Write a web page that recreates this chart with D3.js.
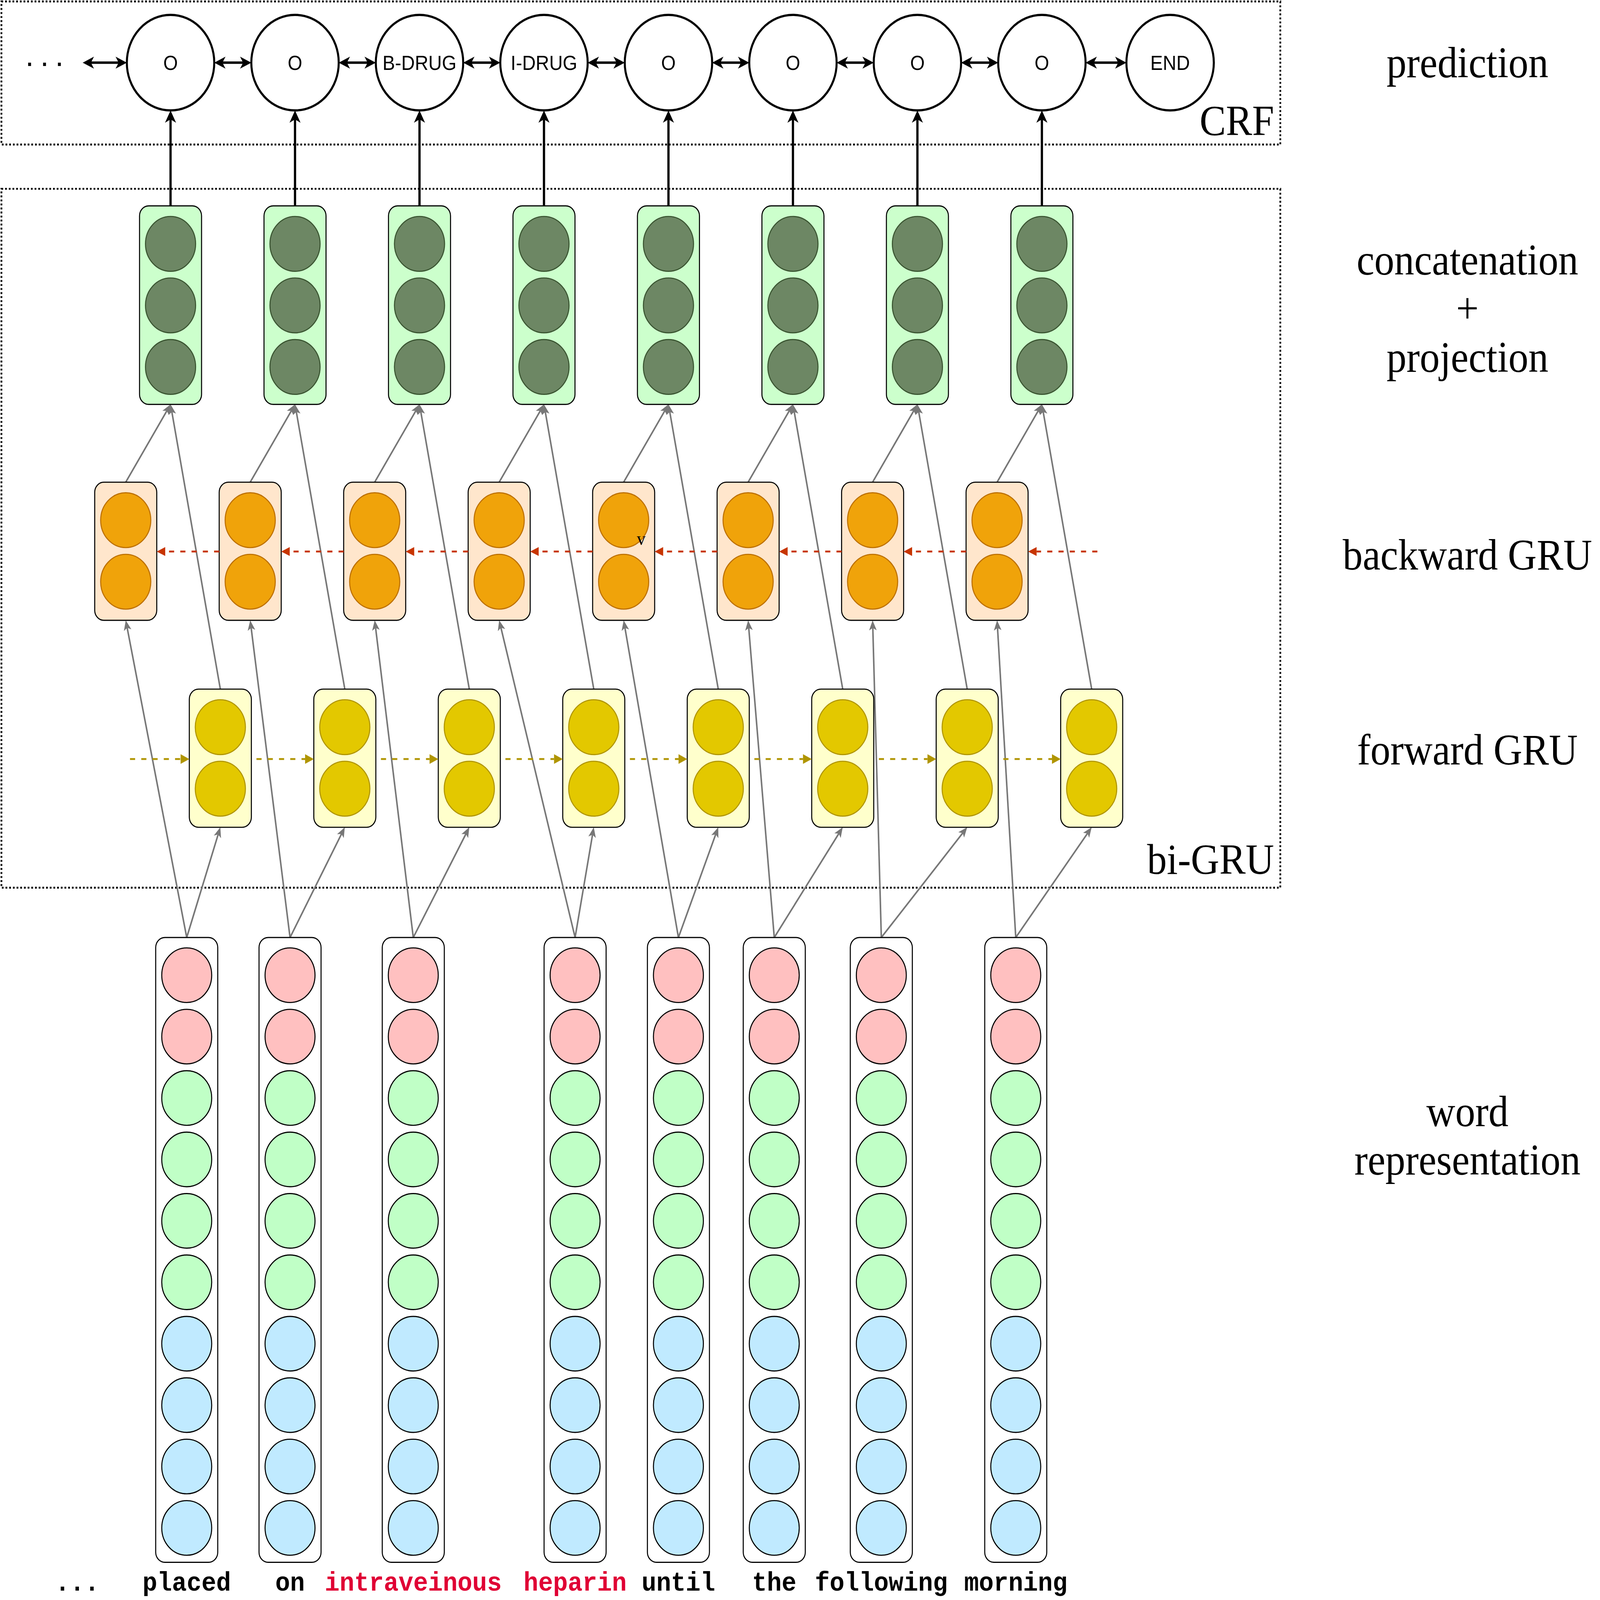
<!DOCTYPE html>
<html lang="en">
<head>
  <meta charset="utf-8">
  <title>bi-GRU + CRF tagger</title>
  <script src="https://d3js.org/d3.v7.min.js"></script>
  <style>
    html, body { margin: 0; padding: 0; background: #fff; overflow: hidden; }
    svg { display: block; width: 100vw; height: 100vh; }
  </style>
</head>
<body>
<script>
  // tags predicted by the CRF layer (last node closes the chain)
  var tags = ["O", "O", "B-DRUG", "I-DRUG", "O", "O", "O", "O", "END"];
  // input tokens, drug mentions are printed in red
  var words = ["...", "placed", "on", "intraveinous", "heparin", "until", "the", "following", "morning"];
  var drugWords = ["intraveinous", "heparin"];
  // where each token column sits, in column units of the GRU grid
  var wordSlot = [-0.75, 0.13, 0.96, 1.95, 3.25, 4.08, 4.85, 5.71, 6.79];
  // sub-vectors of one word representation (pink, green, blue)
  var reprParts = [2, 4, 4];
  var concatUnits = 3;
  var gruUnits = 2;
  var sideLabels = [
    ["prediction"],
    ["concatenation", "+", "projection"],
    ["backward GRU"],
    ["forward GRU"],
    ["word", "representation"]
  ];

  var W = 4920, H = 4502;
  var VW = 1563, VH = VW * H / W;   // drawing units, scaled up by the viewBox

  // the svg fills the whole window, like the reference fills its frame
  var svg = d3.select("body").append("svg")
    .attr("viewBox", "0 0 " + VW + " " + VH)
    .attr("preserveAspectRatio", "none");

  svg.append("rect").attr("width", VW).attr("height", VH).attr("fill", "#fff");

  // column scale: one step per time step
  var col = d3.scaleLinear().domain([0, 1]).range([166.6, 288.2]);
  var steps = d3.range(tags.length - 1);
  var fwdShift = 0.4, bwdShift = -0.36;

  var boxW = 60.6, unitR = 24.5;
  var unitY = d3.scaleLinear().domain([0, 1]).range([34, 89]);   // unit centre offset inside a box

  var layer = {
    cat: { top: 184, h: 177.5 },
    bwd: { top: 431, h: 123.5 },
    fwd: { top: 616, h: 123.5 },
    rep: { top: 838, h: 558.5 }
  };
  var predY = 56, predR = 42.7;

  var serif = "'Liberation Serif', 'DejaVu Serif', serif";
  var sans = "'Liberation Sans', Arial, sans-serif";
  var mono = "'Liberation Mono', 'Courier New', monospace";

  // ---------- arrow heads ----------
  var defs = svg.append("defs");
  var heads = {
    black: { color: "#000", len: 11, half: 5.4, notch: 3 },
    grey:  { color: "#777", len: 9, half: 3.7, notch: 2.2 },
    red:   { color: "#c73500", len: 8.3, half: 4, notch: 0 },
    gold:  { color: "#b09500", len: 8.5, half: 4.3, notch: 0 }
  };
  Object.keys(heads).forEach(function(k) {
    var h = heads[k];
    defs.append("marker")
      .attr("id", "ah-" + k)
      .attr("markerUnits", "userSpaceOnUse")
      .attr("viewBox", [-h.len, -h.half, h.len, 2 * h.half].join(" "))
      .attr("markerWidth", h.len)
      .attr("markerHeight", 2 * h.half)
      .attr("refX", -h.len + h.notch)
      .attr("refY", 0)
      .attr("orient", "auto-start-reverse")
      .style("overflow", "visible")
      .append("path")
      .attr("d", "M0,0L" + (-h.len) + "," + (-h.half) + "L" + (-h.len + h.notch) + ",0L" + (-h.len) + "," + h.half + "Z")
      .attr("fill", h.color);
  });

  function arrow(g, x1, y1, x2, y2, kind, width, both, dash) {
    var h = heads[kind];
    var dx = x2 - x1, dy = y2 - y1, d = Math.hypot(dx, dy);
    var k = (h.len - h.notch) / d;
    var line = g.append("line")
      .attr("x1", both ? x1 + dx * k : x1)
      .attr("y1", both ? y1 + dy * k : y1)
      .attr("x2", x2 - dx * k)
      .attr("y2", y2 - dy * k)
      .attr("stroke", h.color)
      .attr("stroke-width", width)
      .attr("marker-end", "url(#ah-" + kind + ")");
    if (both) line.attr("marker-start", "url(#ah-" + kind + ")");
    if (dash) line.attr("stroke-dasharray", dash);
    return line;
  }

  // ---------- dotted frames ----------
  var frames = [
    { x0: 1.4, y0: 1.3, x1: 1250.7, y1: 129.2, label: "CRF", base: 120.7 },
    { x0: 1.4, y0: 168.8, x1: 1250.7, y1: 793.5, label: "bi-GRU", base: 781 }
  ];
  svg.selectAll("rect.frame")
    .data(frames)
    .enter().append("rect")
    .attr("class", "frame")
    .attr("x", function(d) { return d.x0; })
    .attr("y", function(d) { return d.y0; })
    .attr("width", function(d) { return d.x1 - d.x0; })
    .attr("height", function(d) { return d.y1 - d.y0; })
    .attr("fill", "none")
    .attr("stroke", "#000")
    .attr("stroke-width", 1.7)
    .attr("stroke-dasharray", "1.7 1.9");
  svg.selectAll("text.frame-label")
    .data(frames)
    .enter().append("text")
    .attr("class", "frame-label")
    .attr("x", 1244.6)
    .attr("y", function(d) { return d.base; })
    .attr("text-anchor", "end")
    .attr("font-family", serif)
    .attr("font-size", 38.5)
    .text(function(d) { return d.label; });

  // ---------- grey connections ----------
  var gLinks = svg.append("g");
  var tokSlot = wordSlot.slice(1);
  steps.forEach(function(i) {
    var wx = col(tokSlot[i]), fx = col(i + fwdShift), bx = col(i + bwdShift), cx = col(i);
    var catBottom = layer.cat.top + layer.cat.h;
    arrow(gLinks, wx, layer.rep.top, fx, layer.fwd.top + layer.fwd.h, "grey", 1.5);
    arrow(gLinks, wx, layer.rep.top, bx, layer.bwd.top + layer.bwd.h, "grey", 1.5);
    arrow(gLinks, fx, layer.fwd.top, cx, catBottom, "grey", 1.5);
    arrow(gLinks, bx, layer.bwd.top, cx, catBottom, "grey", 1.5);
  });

  // ---------- CRF chain ----------
  var gCrf = svg.append("g");
  var predX = function(i) { return col(i === tags.length - 1 ? i + 0.03 : i); };
  steps.forEach(function(i) {
    arrow(gCrf, col(i), layer.cat.top, col(i), predY + predR, "black", 2.2);
  });
  arrow(gCrf, 80.8, predY, predX(0) - predR, predY, "black", 2.2, true);
  d3.range(tags.length - 1).forEach(function(i) {
    arrow(gCrf, predX(i) + predR, predY, predX(i + 1) - predR, predY, "black", 2.2, true);
  });
  gCrf.append("text")
    .attr("x", 48).attr("y", 59)
    .attr("text-anchor", "middle")
    .attr("font-family", sans)
    .attr("font-size", 20)
    .attr("font-weight", "bold")
    .attr("letter-spacing", 9)
    .text("...");
  var pred = gCrf.selectAll("g.pred")
    .data(tags)
    .enter().append("g")
    .attr("class", "pred")
    .attr("transform", function(d, i) { return "translate(" + predX(i) + "," + predY + ")"; });
  pred.append("circle")
    .attr("r", predR)
    .attr("fill", "#fff")
    .attr("stroke", "#000")
    .attr("stroke-width", 2);
  pred.append("text")
    .attr("y", 6.5)
    .attr("text-anchor", "middle")
    .attr("font-family", sans)
    .attr("font-size", 18.3)
    .text(function(d) { return d; });

  // ---------- vector boxes ----------
  function vectorBoxes(cls, xs, top, h, fill, units, unitFill, unitStroke) {
    var g = svg.selectAll("g." + cls)
      .data(xs)
      .enter().append("g")
      .attr("class", cls)
      .attr("transform", function(d) { return "translate(" + d + "," + top + ")"; });
    g.append("rect")
      .attr("x", -boxW / 2)
      .attr("width", boxW)
      .attr("height", h)
      .attr("rx", 9)
      .attr("fill", fill)
      .attr("stroke", "#000")
      .attr("stroke-width", 1);
    g.selectAll("circle")
      .data(units)
      .enter().append("circle")
      .attr("cy", function(d, k) { return unitY(k); })
      .attr("r", unitR)
      .attr("fill", unitFill)
      .attr("stroke", unitStroke)
      .attr("stroke-width", 1);
    return g;
  }

  vectorBoxes("cat", steps.map(function(i) { return col(i); }), layer.cat.top, layer.cat.h,
    "#ccffcc", d3.range(concatUnits), "#6d8764", "#3a5431");
  vectorBoxes("bwd", steps.map(function(i) { return col(i + bwdShift); }), layer.bwd.top, layer.bwd.h,
    "#ffe6cc", d3.range(gruUnits), "#f0a30a", "#bd7000");
  vectorBoxes("fwd", steps.map(function(i) { return col(i + fwdShift); }), layer.fwd.top, layer.fwd.h,
    "#ffffcc", d3.range(gruUnits), "#e3c800", "#b09500");

  var partFill = ["#ffc0c0", "#c0ffc6", "#c0eaff"];
  var reprUnits = [];
  reprParts.forEach(function(n, p) { d3.range(n).forEach(function() { reprUnits.push(p); }); });
  var unitYRep = d3.scaleLinear().domain([0, 1]).range([33.7, 88.6]);
  var rep = svg.selectAll("g.rep")
    .data(tokSlot)
    .enter().append("g")
    .attr("class", "rep")
    .attr("transform", function(d) { return "translate(" + col(d) + "," + layer.rep.top + ")"; });
  rep.append("rect")
    .attr("x", -boxW / 2)
    .attr("width", boxW)
    .attr("height", layer.rep.h)
    .attr("rx", 9)
    .attr("fill", "#fff")
    .attr("stroke", "#000")
    .attr("stroke-width", 1);
  rep.selectAll("circle")
    .data(reprUnits)
    .enter().append("circle")
    .attr("cy", function(d, k) { return unitYRep(k); })
    .attr("r", 24.4)
    .attr("fill", function(d) { return partFill[d]; })
    .attr("stroke", "#000")
    .attr("stroke-width", 1);

  // ---------- recurrent arrows ----------
  var gRec = svg.append("g");
  var bwdY = 493, fwdY = 678.5;
  steps.forEach(function(i) {
    var right = i === steps.length - 1 ? 1072 : col(i + 1 + bwdShift) - boxW / 2;
    arrow(gRec, right, bwdY, col(i + bwdShift) + boxW / 2, bwdY, "red", 1.6, false, "5 6");
    var left = i === 0 ? 127 : col(i - 1 + fwdShift) + boxW / 2 + 5;
    arrow(gRec, left, fwdY, col(i + fwdShift) - boxW / 2, fwdY, "gold", 1.7, false, "5 6");
  });
  // stray glyph left in the original drawing
  gRec.append("text")
    .attr("x", 626.3).attr("y", 487)
    .attr("text-anchor", "middle")
    .attr("font-family", serif)
    .attr("font-size", 17)
    .text("v");

  // ---------- tokens ----------
  svg.selectAll("text.word")
    .data(words)
    .enter().append("text")
    .attr("class", "word")
    .attr("x", function(d, i) { return col(wordSlot[i]); })
    .attr("y", 1422)
    .attr("text-anchor", "middle")
    .attr("font-family", mono)
    .attr("font-weight", "bold")
    .attr("font-size", 24)
    .attr("fill", function(d) { return drugWords.indexOf(d) >= 0 ? "#e00034" : "#000"; })
    .text(function(d) { return d; });

  // ---------- layer names ----------
  var labelBase = [[69.3], [245.3, 288.8, 332.4], [509], [683.5], [1006.5, 1050]];
  var gSide = svg.append("g");
  sideLabels.forEach(function(lines, j) {
    lines.forEach(function(t, k) {
      gSide.append("text")
        .attr("x", 1433.5)
        .attr("y", labelBase[j][k])
        .attr("text-anchor", "middle")
        .attr("font-family", serif)
        .attr("font-size", 39)
        .text(t);
    });
  });
</script>
</body>
</html>
